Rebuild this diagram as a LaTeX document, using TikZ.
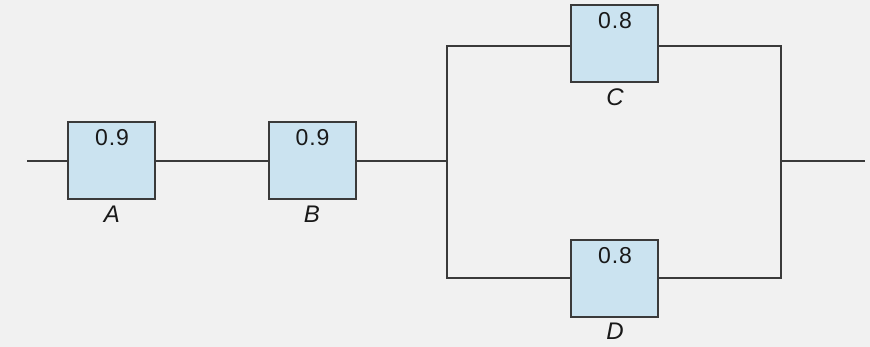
\documentclass[tikz,border=0pt]{standalone}
\usepackage{fontspec}
\setmainfont{Liberation Sans}
\definecolor{bg}{HTML}{F1F1F1}
\definecolor{boxfill}{HTML}{CBE3F0}
\definecolor{ln}{HTML}{3A3A3A}
\begin{document}
\begin{tikzpicture}[x=1pt,y=-1pt,
  blk/.style={draw=ln,line width=2pt,fill=boxfill,minimum width=87pt,minimum height=77pt,inner sep=0pt},
  val/.style={inner sep=0pt,font=\fontsize{23}{23}\selectfont\addfontfeatures{LetterSpace=4},text=black!90},
  lab/.style={inner sep=0pt,font=\fontsize{24}{24}\selectfont\itshape,text=black!90},
  wire/.style={draw=ln,line width=2pt}]
\useasboundingbox (0,0) rectangle (870,347);
\fill[bg] (0,0) rectangle (870,347);
\node[blk] (A) at (111.5,160.5) {};
\node[blk] (B) at (312,160.5) {};
\node[blk] (C) at (614.5,44) {};
\node[blk] (D) at (614.5,278.5) {};
\node[val] (vA) at (112,138) {0.9};
\node[val] (vB) at (312.5,138) {0.9};
\node[val] (vC) at (615,21) {0.8};
\node[val] (vD) at (615,256) {0.8};
\node[lab] (lA) at (112,214) {A};
\node[lab] (lB) at (312,214) {B};
\node[lab] (lC) at (615,97) {C};
\node[lab] (lD) at (615,331) {D};
\coordinate (in) at (27,161);
\coordinate (out) at (865,161);
\coordinate (jl) at (447,161);
\coordinate (jr) at (781,161);
\coordinate (tl) at (447,46);
\coordinate (bl) at (447,278);
\coordinate (tr) at (781,46);
\coordinate (br) at (781,278);
\draw[wire] (in) -- (A.west |- in);
\draw[wire] (A.east |- in) -- (B.west |- in);
\draw[wire] (B.east |- in) -- (jl);
\draw[wire] (C.west |- tl) -- (tl) -- (bl) -- (D.west |- bl);
\draw[wire] (C.east |- tr) -- (tr) -- (br) -- (D.east |- br);
\draw[wire] (jr) -- (out);
\end{tikzpicture}
\end{document}
